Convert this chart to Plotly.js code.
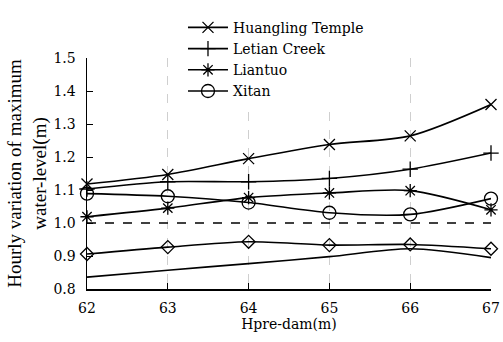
<!DOCTYPE html>
<html>
<head>
<meta charset="utf-8">
<script src="https://cdn.plot.ly/plotly-3.0.1.min.js"></script>
<style>html,body{margin:0;padding:0;background:#fff;}#chart{width:503px;height:342px;}</style>
</head>
<body>
<div id="chart"></div>
<script>
const xValues = [62, 63, 64, 65, 66, 67];
const huangling = [1.118, 1.147, 1.195, 1.238, 1.264, 1.359];
const letian = [1.103, 1.125, 1.125, 1.135, 1.163, 1.212];
const liantuo = [1.019, 1.045, 1.077, 1.091, 1.098, 1.040];
const xitan = [1.089, 1.081, 1.062, 1.031, 1.026, 1.074];
const diamondSeries = [0.906, 0.927, 0.943, 0.933, 0.935, 0.922];
const plainSeries = [0.836, 0.857, 0.877, 0.898, 0.922, 0.895];
const reference = [1.0, 1.0, 1.0, 1.0, 1.0, 1.0];
const seriesNames = ['Huangling Temple', 'Letian Creek', 'Liantuo', 'Xitan'];

const font = 'DejaVu Serif';
const titleFont = 'Liberation Serif';
function tr(y, name, symbol, size, show) {
  return {
    x: xValues, y: y, name: name, type: 'scatter', mode: symbol ? 'lines+markers' : 'lines',
    line: {color: '#000', width: 1.6, shape: 'spline', smoothing: 0.8},
    marker: {symbol: symbol || 'circle', size: size, color: '#000', line: {color: '#000', width: 1.3}},
    showlegend: show, cliponaxis: false
  };
}
const data = [
  tr(huangling, seriesNames[0], 'x-thin-open', 11, true),
  tr(letian, seriesNames[1], 'cross-thin-open', 11, true),
  tr(liantuo, seriesNames[2], 'asterisk-open', 11, true),
  tr(xitan, seriesNames[3], 'circle-open', 13, true),
  tr(diamondSeries, 'diamond', 'diamond-open', 10, false),
  tr(plainSeries, 'plain', null, 1, false),
  {x: xValues, y: reference, type: 'scatter', mode: 'lines', showlegend: false,
   line: {color: '#000', width: 1.6, dash: 'dash'}}
];
const layout = {
  width: 503, height: 342,
  margin: {l: 87, r: 12, t: 47, b: 53},
  paper_bgcolor: '#fff', plot_bgcolor: '#fff',
  font: {family: font, size: 14, color: '#000'},
  showlegend: true,
  legend: {x: 0.2376, y: 1.2, xanchor: 'left', yanchor: 'top', bgcolor: '#fff',
           font: {family: font, size: 14}, tracegroupgap: 0, itemwidth: 40},
  xaxis: {
    range: [62, 67], dtick: 1, tick0: 62, ticks: 'inside', ticklen: 6, tickcolor: '#000',
    showline: true, linecolor: '#000', linewidth: 1.5, zeroline: false,
    showgrid: true, gridcolor: '#cfcfcf', griddash: 'dash', gridwidth: 1,
    ticklabelstandoff: 6, tickfont: {family: font, size: 14},
    title: {text: 'Hpre-dam(m)', font: {family: font, size: 14}, standoff: 2}
  },
  yaxis: {
    range: [0.8, 1.5], dtick: 0.1, tick0: 0.8, tickformat: '.1f', ticks: 'inside', ticklen: 6, tickcolor: '#000',
    showline: true, linecolor: '#000', linewidth: 1.5, zeroline: false, showgrid: false,
    ticklabelstandoff: 7, tickfont: {family: font, size: 14},
    title: {text: 'Hourly variation of maximum<br>water-level(m)', font: {family: titleFont, size: 19}, standoff: 2}
  }
};
Plotly.newPlot('chart', data, layout, {displayModeBar: false, staticPlot: true});
</script>
</body>
</html>
